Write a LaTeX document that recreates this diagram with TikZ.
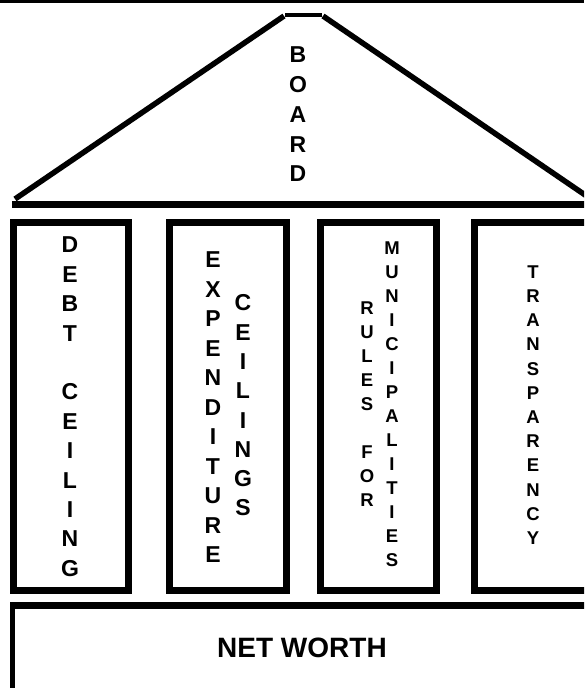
\documentclass[tikz,border=0pt]{standalone}
\usepackage{fontspec}
\setmainfont{Liberation Sans}
\begin{document}
\begin{tikzpicture}[x=1pt,y=-1pt,line join=miter,
  pillar/.style={draw,line width=7pt},
  roofline/.style={line width=5.5pt},
  col/.style 2 args={font=\bfseries\fontsize{#1}{#2}\selectfont,align=center,inner sep=0pt}]
\useasboundingbox (0,0) rectangle (584,688);
\clip (0,0) rectangle (584,688);
% top rule
\draw[line width=2.5pt] (0,1.5) -- (584,1.5);
% roof
\draw[roofline] (15,199) -- (284,16);
\draw[roofline] (323,16) -- (591,199);
\draw[line width=4pt] (285,14.7) -- (322,14.7);
\draw[line width=7pt] (12,204.5) -- (590,204.5);
\node[col={23}{29.75}] (board) at (298,114.5) {B\\O\\A\\R\\D};
% pillars
\draw[pillar] (13.5,222.5) rectangle (128.5,590.5);
\draw[pillar] (169.5,222.5) rectangle (286.5,590.5);
\draw[pillar] (320.5,222.5) rectangle (436.5,590.5);
\draw[pillar] (474.5,222.5) rectangle (590,590.5);
\node[col={23}{29.4}] (debt) at (70,406.7) {D\\E\\B\\T\\\mbox{}\\C\\E\\I\\L\\I\\N\\G};
\node[col={23}{29.5}] (exp) at (213,407.5) {E\\X\\P\\E\\N\\D\\I\\T\\U\\R\\E};
\node[col={23}{29.3}] (ceil) at (243,405.5) {C\\E\\I\\L\\I\\N\\G\\S};
\node[col={18.5}{24}] (rules) at (367,404) {R\\U\\L\\E\\S\\\mbox{}\\F\\O\\R};
\node[col={18.5}{24}] (muni) at (392,404) {M\\U\\N\\I\\C\\I\\P\\A\\L\\I\\T\\I\\E\\S};
\node[col={18.5}{24.2}] (transp) at (533,405) {T\\R\\A\\N\\S\\P\\A\\R\\E\\N\\C\\Y};
% base
\draw[line width=7pt] (12.5,605) -- (590,605);
\draw[line width=5pt] (12.5,602) -- (12.5,700);
\node[font=\bfseries\fontsize{28}{32}\selectfont,inner sep=0pt] (net) at (302,648) {NET WORTH};
\end{tikzpicture}
\end{document}
